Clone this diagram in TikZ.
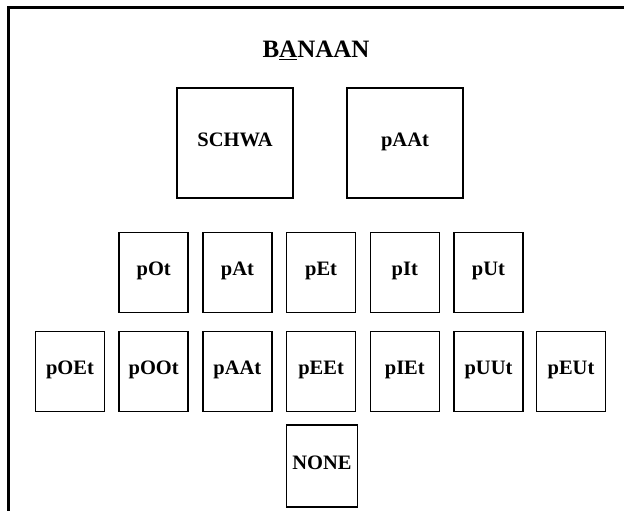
\documentclass[tikz,border=0pt]{standalone}
\usepackage{fontspec}
\setmainfont{Liberation Serif}
\begin{document}
\begin{tikzpicture}[x=1pt,y=-1pt,
  cell/.style={draw, line width=1.6pt, inner sep=0pt, font=\bfseries\fontsize{20.5}{24}\selectfont,
    text height=0.62em, text depth=0pt, minimum width=69pt, minimum height=80pt},
  bigcell/.style={cell, minimum width=116pt, minimum height=110pt},
  frame/.style={line width=3pt}]
\useasboundingbox (0,0) rectangle (624,511);
\draw[frame] (8,515) -- (8,8) -- (624,8);
\node[anchor=base, font=\bfseries\fontsize{25}{30}\selectfont] (title) at (316,58) {B\underline{A}NAAN};
\node[bigcell] (schwa) at (235,143) {SCHWA};
\node[bigcell] (paat1) at (405,143) {pAAt};
\node[cell] (pot) at (153.7,272.5) {pOt};
\node[cell] (pat) at (237.4,272.5) {pAt};
\node[cell] (pet) at (321.1,272.5) {pEt};
\node[cell] (pit) at (404.8,272.5) {pIt};
\node[cell] (put) at (488.5,272.5) {pUt};
\node[cell] (poet) at (70,371.5) {pOEt};
\node[cell] (poot) at (153.7,371.5) {pOOt};
\node[cell] (paat) at (237.4,371.5) {pAAt};
\node[cell] (peet) at (321.1,371.5) {pEEt};
\node[cell] (piet) at (404.8,371.5) {pIEt};
\node[cell] (puut) at (488.5,371.5) {pUUt};
\node[cell] (peut) at (571,371.5) {pEUt};
\node[cell, minimum height=82pt, minimum width=71pt] (none) at (322,466) {NONE};
\end{tikzpicture}
\end{document}
